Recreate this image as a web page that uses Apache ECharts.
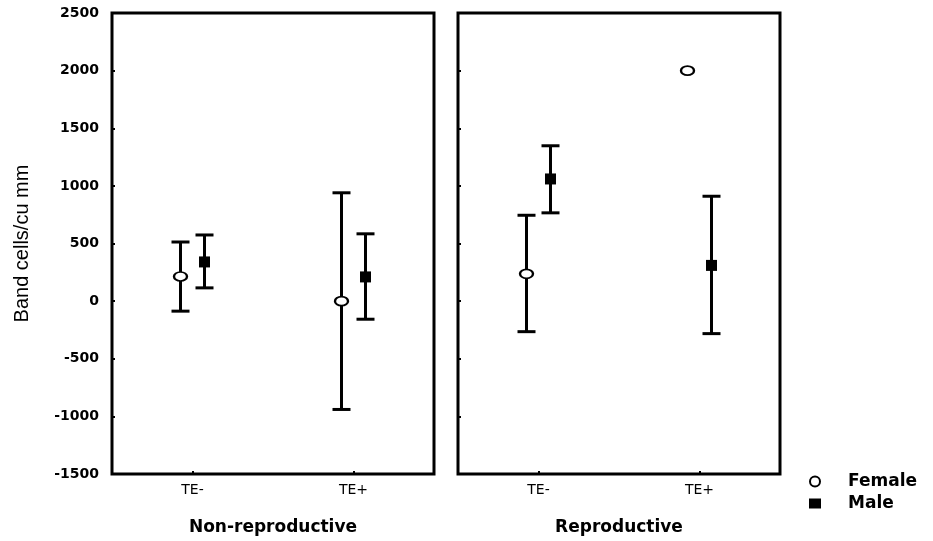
<!DOCTYPE html>
<html>
<head>
<meta charset="utf-8">
<script src="https://cdn.jsdelivr.net/npm/echarts@6/dist/echarts.min.js"></script>
<style>html,body{margin:0;padding:0;background:#fff;}#c{width:933px;height:541px;}</style>
</head>
<body>
<div id="c"></div>
<script>
const categories = ['TE-', 'TE+'];
const panelNames = ['Non-reproductive', 'Reproductive'];
const yTicks = { min: -1500, max: 2500, interval: 500 };

// Non-reproductive
const femaleNonRepMean = [214, 0];
const femaleNonRepLow = [-87, -940];
const femaleNonRepHigh = [513, 940];
const maleNonRepMean = [340, 210];
const maleNonRepLow = [115, -157];
const maleNonRepHigh = [574, 584];
// Reproductive
const femaleRepMean = [237, 2000];
const femaleRepLow = [-265, null];
const femaleRepHigh = [745, null];
const maleRepMean = [1060, 310];
const maleRepLow = [766, -282];
const maleRepHigh = [1348, 910];

const FONT = 'DejaVu Sans, Liberation Sans, Arial, sans-serif';
const OFF = 12;

function errData(low, high) {
  return categories.map((c, i) => [i, low[i], high[i]]).filter(d => d[1] != null && d[2] != null);
}
function errSeries(name, low, high, xi, dx) {
  return {
    type: 'custom', name: name, xAxisIndex: xi, yAxisIndex: xi,
    data: errData(low, high),
    z: 2,
    renderItem: function (params, api) {
      const lo = api.coord([api.value(0), api.value(1)]);
      const hi = api.coord([api.value(0), api.value(2)]);
      const x = lo[0] + dx, hw = 9;
      const style = { stroke: '#000', lineWidth: 3 };
      return { type: 'group', children: [
        { type: 'line', shape: { x1: x, y1: lo[1], x2: x, y2: hi[1] }, style: style },
        { type: 'line', shape: { x1: x - hw, y1: lo[1], x2: x + hw, y2: lo[1] }, style: style },
        { type: 'line', shape: { x1: x - hw, y1: hi[1], x2: x + hw, y2: hi[1] }, style: style }
      ]};
    }
  };
}
function femaleScatter(mean, xi) {
  return { type: 'scatter', name: 'Female', xAxisIndex: xi, yAxisIndex: xi, z: 5,
    data: mean.map((v, i) => [i, v]), symbol: 'circle', symbolSize: [13, 9], symbolOffset: [-OFF, 0],
    itemStyle: { color: '#fff', borderColor: '#000', borderWidth: 2, opacity: 1 } };
}
function maleScatter(mean, xi) {
  return { type: 'scatter', name: 'Male', xAxisIndex: xi, yAxisIndex: xi, z: 5,
    data: mean.map((v, i) => [i, v]), symbol: 'rect', symbolSize: [11, 11], symbolOffset: [OFF, 0],
    itemStyle: { color: '#000', opacity: 1 } };
}

const grids = [
  { left: 112, top: 13, width: 322, height: 462 },
  { left: 458, top: 13, width: 322, height: 462 }
];

const xAxes = grids.map((g, i) => ({
  type: 'category', gridIndex: i, data: categories, boundaryGap: true,
  name: panelNames[i], nameLocation: 'middle', nameGap: 45,
  nameTextStyle: { fontFamily: FONT, fontWeight: 'bold', fontSize: 17, color: '#000' },
  axisLine: { show: false, onZero: false },
  axisTick: { show: true, inside: true, length: 3, alignWithLabel: true, lineStyle: { color: '#000', width: 2 } },
  axisLabel: { fontFamily: FONT, fontSize: 14, color: '#000', margin: 9 },
  splitLine: { show: false }
}));

const yAxes = grids.map((g, i) => ({
  type: 'value', gridIndex: i, min: yTicks.min, max: yTicks.max, interval: yTicks.interval,
  name: i === 0 ? 'Band cells/cu mm' : '', nameLocation: 'middle', nameGap: 80,
  nameTextStyle: { fontFamily: 'Liberation Sans, Arial, sans-serif', fontSize: 20, color: '#000' },
  axisLine: { show: false, onZero: false },
  axisTick: { show: true, inside: true, length: 3, lineStyle: { color: '#000', width: 2 } },
  axisLabel: { show: i === 0, fontFamily: FONT, fontSize: 14, fontWeight: 'bold', color: '#000', margin: 13,
    formatter: v => String(v) },
  splitLine: { show: false }
}));

const option = {
  animation: false,
  backgroundColor: '#fff',
  grid: grids.map(g => Object.assign({ show: true, borderColor: '#000', borderWidth: 3, backgroundColor: 'transparent' }, g)),
  xAxis: xAxes,
  yAxis: yAxes,
  legend: {
    orient: 'vertical', left: 804, top: 468, itemGap: 5, itemWidth: 12, itemHeight: 10,
    textStyle: { fontFamily: FONT, fontSize: 17, fontWeight: 'bold', color: '#000', padding: [0, 0, 0, 22] },
    data: [
      { name: 'Female', icon: 'circle', itemStyle: { color: '#fff', borderColor: '#000', borderWidth: 2 } },
      { name: 'Male', icon: 'rect', itemStyle: { color: '#000' } }
    ],
    selectedMode: false
  },
  series: [
    errSeries('Female', femaleNonRepLow, femaleNonRepHigh, 0, -OFF),
    errSeries('Male', maleNonRepLow, maleNonRepHigh, 0, OFF),
    errSeries('Female', femaleRepLow, femaleRepHigh, 1, -OFF),
    errSeries('Male', maleRepLow, maleRepHigh, 1, OFF),
    femaleScatter(femaleNonRepMean, 0),
    maleScatter(maleNonRepMean, 0),
    femaleScatter(femaleRepMean, 1),
    maleScatter(maleRepMean, 1)
  ]
};

echarts.init(document.getElementById('c'), null, { renderer: 'canvas' }).setOption(option);
</script>
</body>
</html>
